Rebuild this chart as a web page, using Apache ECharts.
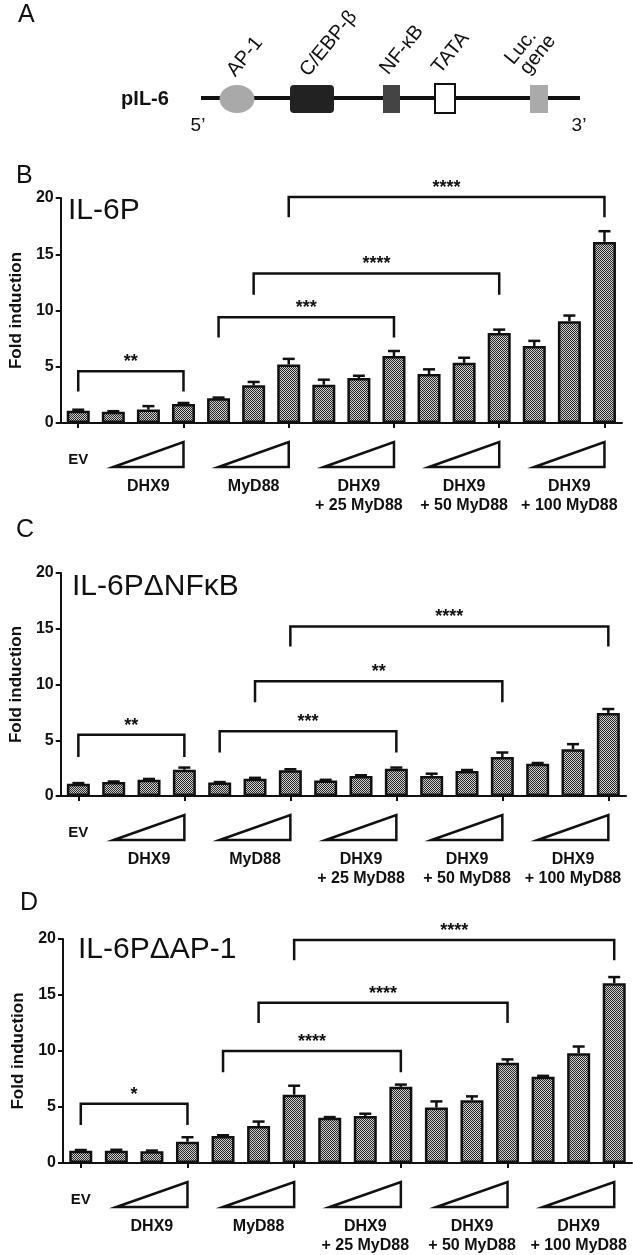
<!DOCTYPE html>
<html><head><meta charset="utf-8">
<script src="https://cdn.jsdelivr.net/npm/echarts@6/dist/echarts.min.js"></script>
<style>html,body{margin:0;padding:0;background:#fff}#c{width:633px;height:1255px}</style>
</head><body><div id="c"></div>
<script>
// ---------- data ----------
const categories = ['EV','DHX9 a','DHX9 b','DHX9 c','MyD88 a','MyD88 b','MyD88 c',
  'DHX9+25 a','DHX9+25 b','DHX9+25 c','DHX9+50 a','DHX9+50 b','DHX9+50 c',
  'DHX9+100 a','DHX9+100 b','DHX9+100 c'];
const yTicks = [0, 5, 10, 15, 20];
const panelTitles = ['IL-6P', 'IL-6PΔNFκB', 'IL-6PΔAP-1'];
const panelLetters = ['B', 'C', 'D'];
const yAxisName = 'Fold induction';
const evLabel = 'EV';
const groupLabels = ['DHX9', 'MyD88', 'DHX9\n+ 25 MyD88', 'DHX9\n+ 50 MyD88', 'DHX9\n+ 100 MyD88'];
const groupRanges = [[1,3],[4,6],[7,9],[10,12],[13,15]];

const valuesB = [1.1, 1.0, 1.2, 1.7, 2.2, 3.35, 5.2, 3.4, 4.0, 5.95, 4.35, 5.35, 8.0, 6.85, 9.05, 16.1];
const errorsB = [0.08, 0.05, 0.3, 0.08, 0.06, 0.3, 0.5, 0.45, 0.2, 0.45, 0.42, 0.45, 0.3, 0.45, 0.5, 0.95];
const valuesC = [1.1, 1.25, 1.45, 2.35, 1.2, 1.55, 2.3, 1.4, 1.8, 2.45, 1.8, 2.25, 3.5, 2.9, 4.2, 7.45];
const errorsC = [0.06, 0.05, 0.08, 0.2, 0.05, 0.08, 0.1, 0.05, 0.06, 0.1, 0.2, 0.08, 0.4, 0.06, 0.45, 0.35];
const valuesD = [1.1, 1.1, 1.05, 1.9, 2.4, 3.3, 6.1, 4.05, 4.2, 6.8, 4.95, 5.6, 8.95, 7.7, 9.8, 16.05];
const errorsD = [0.06, 0.08, 0.06, 0.4, 0.08, 0.4, 0.8, 0.05, 0.2, 0.2, 0.55, 0.35, 0.3, 0.08, 0.6, 0.55];

// brackets: [fromIndex, toIndex, barLevel, legBottom, label]
const bracketsB = [[0,3,4.6,2.8,'**'],[4,9,9.4,7.6,'***'],[5,12,13.3,11.4,'****'],[6,15,20.1,18.3,'****']];
const bracketsC = [[0,3,5.5,3.5,'**'],[4,9,5.8,3.9,'***'],[5,12,10.3,8.4,'**'],[6,15,15.2,13.4,'****']];
const bracketsD = [[0,3,5.3,3.4,'*'],[4,9,10.0,8.1,'****'],[5,12,14.3,12.5,'****'],[6,15,19.9,18.1,'****']];

const panels = [
  {values: valuesB, errors: errorsB, brackets: bracketsB},
  {values: valuesC, errors: errorsC, brackets: bracketsC},
  {values: valuesD, errors: errorsD, brackets: bracketsD}
];

// ---------- layout ----------
const FONT = '"Liberation Sans", Arial, Helvetica, sans-serif';
const grids = [
  {left: 54, width: 568, top: 198, height: 225},
  {left: 56, width: 570, top: 573, height: 223},
  {left: 63, width: 569, top: 939, height: 224}
];
const nameGaps = [34, 32, 36];
const titlePos = [[68, 211], [72, 587], [78, 950]];
const letterPos = [[16, 176], [16, 530], [20, 903]];

// checker pattern
const pc = document.createElement('canvas');
pc.width = 2; pc.height = 2;
const pctx = pc.getContext('2d');
pctx.fillStyle = '#d0d0d0'; pctx.fillRect(0,0,2,2);
pctx.fillStyle = '#262626'; pctx.fillRect(0,0,1,1); pctx.fillRect(1,1,1,1);

const INK = '#111';

function errRender(list, errs) {
  return function (params, api) {
    const i = params.dataIndex;
    const v = list[i], e = errs[i];
    const p0 = api.coord([i, v]);
    const p1 = api.coord([i, v + e]);
    return {type: 'group', children: [
      {type: 'line', shape: {x1: p0[0], y1: p0[1], x2: p1[0], y2: p1[1]}, style: {stroke: INK, lineWidth: 2.5}},
      {type: 'line', shape: {x1: p1[0]-6, y1: p1[1], x2: p1[0]+6, y2: p1[1]}, style: {stroke: INK, lineWidth: 2.5}}
    ]};
  };
}
function bracketRender(list) {
  return function (params, api) {
    const b = list[params.dataIndex];
    const a = api.coord([b[0], b[2]]), c = api.coord([b[1], b[2]]);
    const yB = api.coord([b[0], b[3]])[1];
    return {type: 'group', children: [
      {type: 'polyline', shape: {points: [[a[0], yB], [a[0], a[1]], [c[0], a[1]], [c[0], yB]]},
        style: {stroke: INK, lineWidth: 2.5, fill: null}},
      {type: 'text', style: {x: (a[0]+c[0])/2, y: a[1] - 9, text: b[4], font: 'bold 18px ' + FONT,
        fill: INK, align: 'center', verticalAlign: 'middle'}}
    ]};
  };
}
function groupRender(params, api) {
  const i = params.dataIndex;
  if (i === 0) {
    const p = api.coord([0, 0]);
    return {type: 'text', style: {x: p[0], y: p[1] + 37, text: evLabel, font: 'bold 15px ' + FONT,
      fill: INK, align: 'center', verticalAlign: 'middle'}};
  }
  const r = groupRanges[i - 1];
  const a = api.coord([r[0], 0]), b = api.coord([r[1], 0]), m = api.coord([r[0] + 1, 0]);
  const y0 = a[1];
  return {type: 'group', children: [
    {type: 'polygon', shape: {points: [[a[0], y0 + 44], [b[0], y0 + 19], [b[0], y0 + 44]]},
      style: {fill: '#fff', stroke: INK, lineWidth: 2.5, lineJoin: 'miter'}},
    {type: 'text', style: {x: m[0], y: y0 + 54, text: groupLabels[i - 1], font: 'bold 16px ' + FONT,
      fill: INK, align: 'center', verticalAlign: 'top', lineHeight: 19}}
  ]};
}

const xAxes = [], yAxes = [], series = [], graphic = [];
panels.forEach((pn, k) => {
  xAxes.push({gridIndex: k, type: 'category', data: categories,
    axisLine: {show: true, lineStyle: {color: INK, width: 2}},
    axisTick: {show: true, alignWithLabel: true, length: 5, lineStyle: {color: INK, width: 2}},
    axisLabel: {show: false}, splitLine: {show: false}});
  yAxes.push({gridIndex: k, type: 'value', min: yTicks[0], max: yTicks[yTicks.length-1], interval: yTicks[1]-yTicks[0],
    axisLine: {show: true, lineStyle: {color: INK, width: 2}},
    axisTick: {show: true, length: 5, lineStyle: {color: INK, width: 2}},
    axisLabel: {color: INK, fontWeight: 'bold', fontSize: 16, fontFamily: FONT, margin: 7},
    splitLine: {show: false},
    name: yAxisName, nameLocation: 'middle', nameGap: nameGaps[k],
    nameTextStyle: {color: INK, fontWeight: 'bold', fontSize: 17, fontFamily: FONT}});
  series.push({type: 'bar', xAxisIndex: k, yAxisIndex: k, data: pn.values, barWidth: 23,
    itemStyle: {color: {image: pc, repeat: 'repeat'}, borderColor: INK, borderWidth: 2.5}, z: 2});
  series.push({type: 'custom', xAxisIndex: k, yAxisIndex: k, renderItem: errRender(pn.values, pn.errors),
    data: pn.values.map((v, i) => [i, v + pn.errors[i]]), z: 3, clip: false});
  series.push({type: 'custom', xAxisIndex: k, yAxisIndex: k, renderItem: bracketRender(pn.brackets),
    data: pn.brackets.map(b => [b[0], b[2]]), z: 3, clip: false});
  series.push({type: 'custom', xAxisIndex: k, yAxisIndex: k, renderItem: groupRender,
    data: [[0, 0]].concat(groupRanges.map(r => [r[0], 0])), z: 3, clip: false});
  graphic.push({type: 'text', x: titlePos[k][0], y: titlePos[k][1],
    style: {text: panelTitles[k], font: '30px ' + FONT, fill: INK, align: 'left', verticalAlign: 'middle'}});
  graphic.push({type: 'text', x: letterPos[k][0], y: letterPos[k][1],
    style: {text: panelLetters[k], font: '25px ' + FONT, fill: INK, align: 'left', verticalAlign: 'middle'}});
});

// ---------- panel A (promoter diagram) ----------
const promoterLabels = [
  {t: 'AP-1', x: 231, y: 74},
  {t: 'C/EBP-β', x: 304, y: 74},
  {t: 'NF-κB', x: 384, y: 72},
  {t: 'TATA', x: 436, y: 71},
  {t: 'Luc.', x: 509, y: 62},
  {t: 'gene', x: 524, y: 72}
];
graphic.push({type: 'text', x: 18, y: 15, style: {text: 'A', font: '25px ' + FONT, fill: INK, align: 'left', verticalAlign: 'middle'}});
graphic.push({type: 'line', shape: {x1: 201, y1: 98, x2: 580, y2: 98}, style: {stroke: INK, lineWidth: 4}});
graphic.push({type: 'ellipse', shape: {cx: 237, cy: 99, rx: 17.5, ry: 14}, style: {fill: '#a9a9a9'}});
graphic.push({type: 'rect', shape: {x: 290, y: 85, width: 44, height: 28, r: 4}, style: {fill: '#222'}});
graphic.push({type: 'rect', shape: {x: 383, y: 85, width: 17, height: 28}, style: {fill: '#444'}});
graphic.push({type: 'rect', shape: {x: 435, y: 84, width: 20, height: 29}, style: {fill: '#fff', stroke: INK, lineWidth: 2}});
graphic.push({type: 'rect', shape: {x: 530, y: 85, width: 18, height: 28}, style: {fill: '#aaa'}});
graphic.push({type: 'text', x: 145, y: 99, style: {text: 'pIL-6', font: 'bold 20px ' + FONT, fill: INK, align: 'center', verticalAlign: 'middle'}});
graphic.push({type: 'text', x: 198, y: 126, style: {text: "5’", font: '19px ' + FONT, fill: INK, align: 'center', verticalAlign: 'middle'}});
graphic.push({type: 'text', x: 579, y: 126, style: {text: "3’", font: '19px ' + FONT, fill: INK, align: 'center', verticalAlign: 'middle'}});
promoterLabels.forEach(l => {
  graphic.push({type: 'text', x: l.x, y: l.y, rotation: 0.89,
    style: {text: l.t, font: '20px ' + FONT, fill: INK, align: 'left', verticalAlign: 'middle'}});
});

const chart = echarts.init(document.getElementById('c'), null, {renderer: 'canvas'});
chart.setOption({
  animation: false,
  backgroundColor: '#fff',
  grid: grids,
  xAxis: xAxes,
  yAxis: yAxes,
  series: series,
  graphic: graphic
});
</script>
</body></html>
